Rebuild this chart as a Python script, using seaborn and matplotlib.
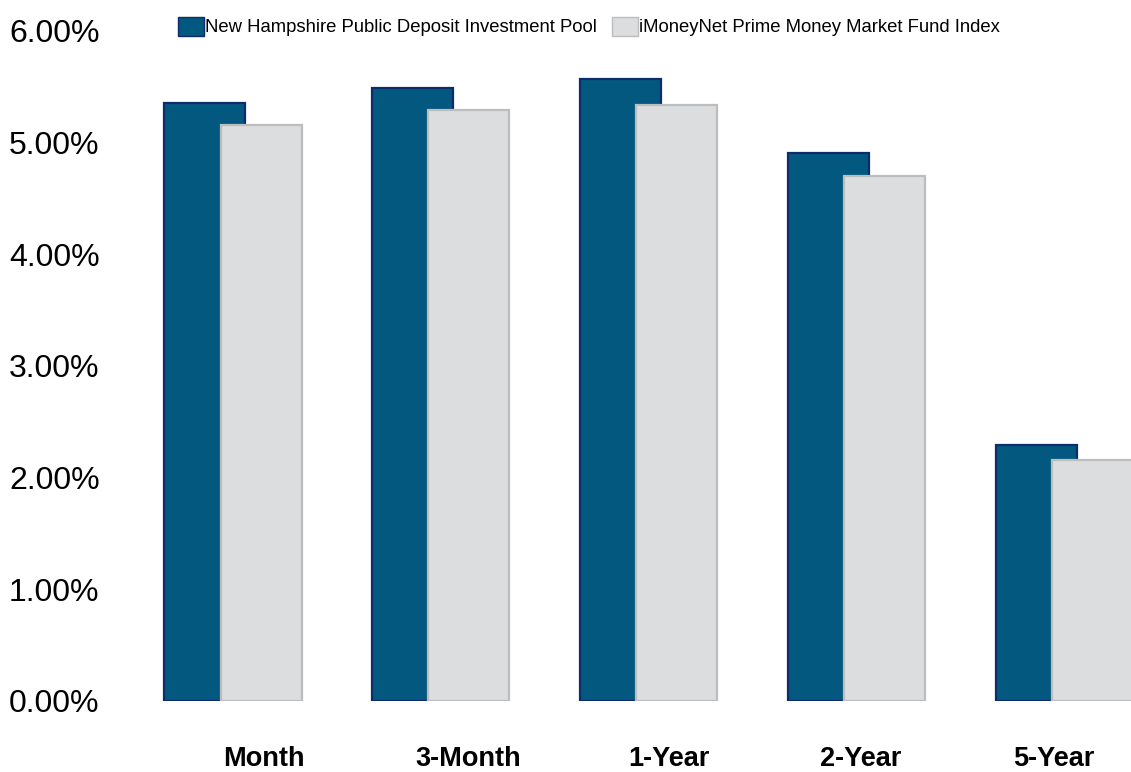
import numpy as np
import pandas as pd
import matplotlib
matplotlib.use("Agg")
import matplotlib.pyplot as plt
from matplotlib.patches import Patch
from matplotlib.ticker import FuncFormatter
import seaborn as sns

# data
periods = ["Month", "3-Month", "1-Year", "2-Year", "5-Year"]
nh_pool = [5.35, 5.49, 5.57, 4.91, 2.29]
imoneynet = [5.16, 5.29, 5.34, 4.70, 2.16]
series_names = ["New Hampshire Public Deposit Investment Pool",
                "iMoneyNet Prime Money Market Fund Index"]

colors = {
    "nh": "#02587F",
    "nh_edge": "#0E2B6A",
    "imn": "#DCDDDF",
    "imn_edge": "#BDBDBD",
}

sns.set_style("white")
plt.rcParams["font.family"] = ["Liberation Sans", "DejaVu Sans"]
plt.rcParams["text.color"] = "black"
plt.rcParams["xtick.color"] = "black"
plt.rcParams["ytick.color"] = "black"

idx = np.arange(len(periods))
shift = 0.135
df_nh = pd.DataFrame({"pos": idx - shift, "val": nh_pool})
df_imn = pd.DataFrame({"pos": idx + shift, "val": imoneynet})

fig = plt.figure(figsize=(11.31, 7.72), dpi=100)
ax = fig.add_axes([0.116, 0.092, 0.884, 0.868])

sns.barplot(data=df_nh, x="pos", y="val", native_scale=True, width=0.39,
            color=colors["nh"], edgecolor=colors["nh_edge"], linewidth=1.6,
            saturation=1, errorbar=None, ax=ax)
sns.barplot(data=df_imn, x="pos", y="val", native_scale=True, width=0.39,
            color=colors["imn"], edgecolor=colors["imn_edge"], linewidth=1.6,
            saturation=1, errorbar=None, ax=ax)

ax.set_xlim(-0.49, 4.322)
ax.set_ylim(0, 6)
ax.set_yticks(np.arange(0, 7, 1))
ax.yaxis.set_major_formatter(FuncFormatter(lambda v, _: f"{v:.2f}%"))
ax.tick_params(axis="y", labelsize=23, length=0, pad=88)
for lab in ax.get_yticklabels():
    lab.set_horizontalalignment("left")

# category labels sit slightly right of the bar pairs, as in the original
label_offsets = [0.15, 0.13, 0.10, 0.02, -0.05]
ax.set_xticks(idx + np.array(label_offsets))
ax.set_xticklabels(periods, fontsize=19.5, fontweight="bold")
ax.tick_params(axis="x", length=0, pad=32.5)
ax.set_xlabel("")
ax.set_ylabel("")
sns.despine(ax=ax, left=True, bottom=True)

handles = [
    Patch(facecolor=colors["nh"], edgecolor=colors["nh_edge"], linewidth=1),
    Patch(facecolor=colors["imn"], edgecolor=colors["imn_edge"], linewidth=1),
]
fig.legend(handles, series_names, loc="upper left", ncol=2,
           bbox_to_anchor=(0.143, 1.0), frameon=False, fontsize=13.3,
           handlelength=1.4, handleheight=1.2, handletextpad=0.05,
           columnspacing=0.8)

fig.savefig("out.png", dpi=100)
